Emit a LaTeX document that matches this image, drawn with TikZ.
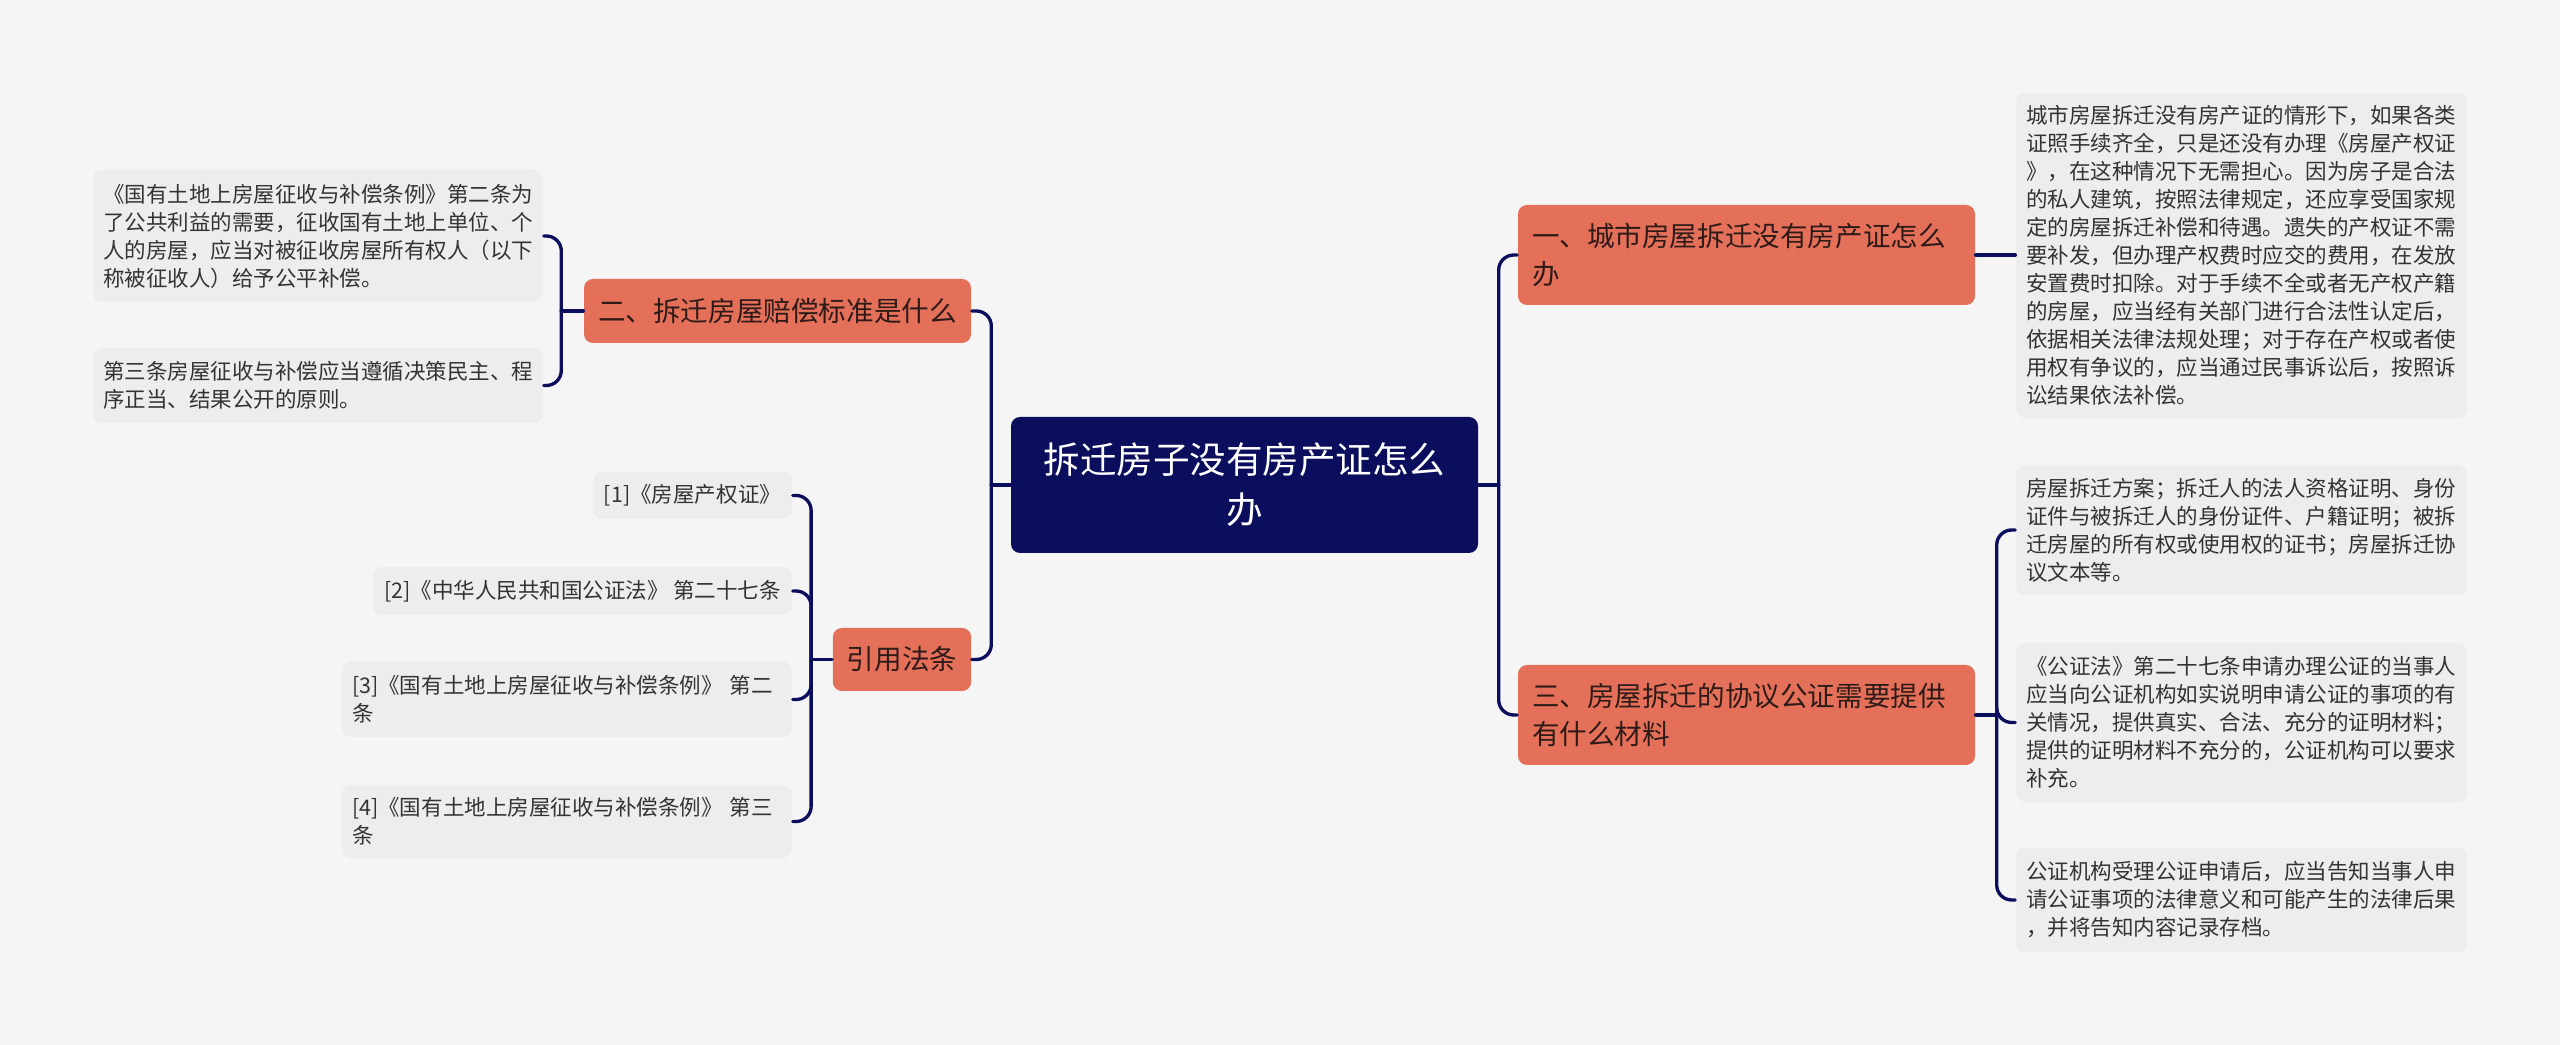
\documentclass[tikz,border=0pt]{standalone}
\usepackage{fontspec}
\setmainfont{Noto Sans CJK SC}
\definecolor{paper}{HTML}{F5F5F5}
\definecolor{navy}{HTML}{0A0E5C}
\definecolor{coral}{HTML}{E5705A}
\definecolor{leafgray}{HTML}{EDEDED}
\definecolor{topicink}{HTML}{2E1B18}
\definecolor{leafink}{HTML}{333333}

\begin{document}
\begin{tikzpicture}[x=0.1mm,y=-0.1mm,line cap=round,line join=round,
  link/.style={draw=navy,line width=0.95pt,rounded corners=1.5mm},
  rootbox/.style={fill=navy,text=white,rounded corners=0.9mm,align=center,
    font=\fontsize{10.4}{14.2}\selectfont},
  topic/.style={fill=coral,text=topicink,rounded corners=0.9mm,inner xsep=1.4mm,
    font=\fontsize{7.85}{10.95}\selectfont},
  leaf/.style={fill=leafgray,text=leafink,rounded corners=0.9mm,inner xsep=1mm,
    font=\fontsize{6.12}{7.97}\selectfont}]
  \fill[paper] (0,0) rectangle (2560,1045);
  \useasboundingbox (0,0) rectangle (2560,1045);

  % Centre topic.
  \node[rootbox,minimum width=46.7mm,minimum height=13.6mm] (root) at (1244.5,485)
    {拆迁房子没有房产证怎么\\办};

  % Left side: section two and the cited laws.
  \node[topic,minimum width=38.7mm,minimum height=6.4mm] (sec2) at (777.5,311)
    {二、拆迁房屋赔偿标准是什么};
  \node[topic,minimum width=13.8mm,minimum height=6.3mm] (cite) at (902,659.5)
    {引用法条};
  \node[leaf,minimum width=45mm,minimum height=13.2mm,text width=43mm,align=left]
    (sec2a) at (318,236)
    {《国有土地上房屋征收与补偿条例》第二条为\\了公共利益的需要，征收国有土地上单位、个\\人的房屋，应当对被征收房屋所有权人（以下\\称被征收人）给予公平补偿。};
  \node[leaf,minimum width=45mm,minimum height=7.5mm,text width=43mm,align=left]
    (sec2b) at (318,385.5)
    {第三条房屋征收与补偿应当遵循决策民主、程\\序正当、结果公开的原则。};
  \node[leaf,minimum width=19.9mm,minimum height=4.7mm] (law1) at (692.5,495.5)
    {[1]《房屋产权证》};
  \node[leaf,minimum width=41.9mm,minimum height=4.8mm] (law2) at (582.5,591)
    {[2]《中华人民共和国公证法》 第二十七条};
  \node[leaf,minimum width=45mm,minimum height=7.5mm,text width=43mm,align=left]
    (law3) at (567,699.5)
    {[3]《国有土地上房屋征收与补偿条例》 第二\\条};
  \node[leaf,minimum width=45mm,minimum height=7.3mm,text width=43mm,align=left]
    (law4) at (567,821.5)
    {[4]《国有土地上房屋征收与补偿条例》 第三\\条};

  % Right side: sections one and three.
  \node[topic,minimum width=45.7mm,minimum height=10mm,text width=42.9mm,align=left]
    (sec1) at (1746.5,255)
    {一、城市房屋拆迁没有房产证怎么\\办};
  \node[topic,minimum width=45.7mm,minimum height=10mm,text width=42.9mm,align=left]
    (sec3) at (1746.5,715)
    {三、房屋拆迁的协议公证需要提供\\有什么材料};
  \node[leaf,minimum width=45.1mm,minimum height=32.5mm,text width=43.1mm,align=left]
    (sec1a) at (2241.5,255.5)
    {城市房屋拆迁没有房产证的情形下，如果各类\\证照手续齐全，只是还没有办理《房屋产权证\\》，在这种情况下无需担心。因为房子是合法\\的私人建筑，按照法律规定，还应享受国家规\\定的房屋拆迁补偿和待遇。遗失的产权证不需\\要补发，但办理产权费时应交的费用，在发放\\安置费时扣除。对于手续不全或者无产权产籍\\的房屋，应当经有关部门进行合法性认定后，\\依据相关法律法规处理；对于存在产权或者使\\用权有争议的，应当通过民事诉讼后，按照诉\\讼结果依法补偿。};
  \node[leaf,minimum width=45.1mm,minimum height=13mm,text width=43.1mm,align=left]
    (sec3a) at (2241.5,530)
    {房屋拆迁方案；拆迁人的法人资格证明、身份\\证件与被拆迁人的身份证件、户籍证明；被拆\\迁房屋的所有权或使用权的证书；房屋拆迁协\\议文本等。};
  \node[leaf,minimum width=45.1mm,minimum height=15.9mm,text width=43.1mm,align=left]
    (sec3b) at (2241.5,722.5)
    {《公证法》第二十七条申请办理公证的当事人\\应当向公证机构如实说明申请公证的事项的有\\关情况，提供真实、合法、充分的证明材料；\\提供的证明材料不充分的，公证机构可以要求\\补充。};
  \node[leaf,minimum width=45.1mm,minimum height=10.4mm,text width=43.1mm,align=left]
    (sec3c) at (2241.5,900)
    {公证机构受理公证申请后，应当告知当事人申\\请公证事项的法律意义和可能产生的法律后果\\，并将告知内容记录存档。};

  % Connectors.
  \coordinate (jl) at ([xshift=-1.9mm]root.west);
  \coordinate (jr) at ([xshift=2mm]root.east);
  \coordinate (j2) at ([xshift=-2.2mm]sec2.west);
  \coordinate (jc) at ([xshift=-2.1mm]cite.west);
  \coordinate (j3) at ([xshift=2.1mm]sec3.east);
  \draw[link] (root.west) -- (jl);
  \draw[link] (jl) |- (sec2.east);
  \draw[link] (jl) |- (cite.east);
  \draw[link] (root.east) -- (jr);
  \draw[link] (jr) |- (sec1.west);
  \draw[link] (jr) |- (sec3.west);
  \draw[link] (sec2.west) -- (j2);
  \foreach \n in {sec2a,sec2b} \draw[link] (j2) |- (\n.east);
  \draw[link] (cite.west) -- (jc);
  \foreach \n in {law1,law2,law3,law4} \draw[link] (jc) |- (\n.east);
  \draw[link] (sec1.east) -- (sec1.east -| sec1a.west);
  \draw[link] (sec3.east) -- (j3);
  \foreach \n in {sec3a,sec3b,sec3c} \draw[link] (j3) |- (\n.west);
\end{tikzpicture}
\end{document}
